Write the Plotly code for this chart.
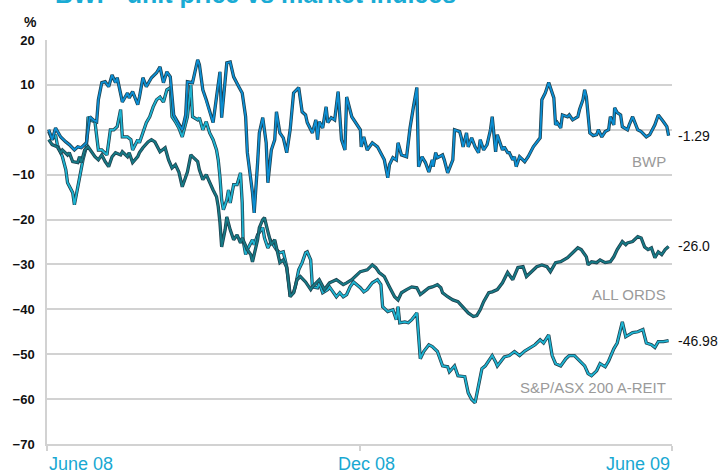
import pandas as pd
import plotly.graph_objects as go

START = "2008-06-01"

bwp_days = [1,3,5,8,11,13,16,18,20,23,25,27,29,30,32,34,36,38,40,41,44,47,48,50,53,54,56,58,61,63,64,66,68,70,72,74,77,79,81,82,85,88,89,91,93,95,97,99,101,102,105,107,109,112,114,116,117,120,121,123,124,126,128,129,131,133,134,136,138,140,142,144,147,149,151,152,155,157,158,159,161,163,164,166,168,170,172,174,175,178,181,183,183.5,185,187,190,193,196,197,199,200,202,204,205,207,210,212,214,216,217,219,221,223,225,225.5,227,228,231,232,234,237,238,241,242,243,245,246,248,250,252,253,255,257,259,260,262,263,266,267,269,270,272,273,274,276,279,281,284,286,288,289,291,293,295,296,297,298,300,301,304,305,307,310,311,313,314,315,317,319,321,322,324,326,328,329,331,331.5,333,335,336,339,340,342,345,347,350,352,355,357,360,362,363]
bwp_vals = [0,-2.2,0.4,-1.6,-2.7,-3.3,-4.5,-3.8,-4.0,-2.9,2.9,2.2,1.8,6.7,10.5,10.7,9.6,12.2,10.5,11.6,6.2,8.2,7.1,8.5,5.6,7.3,11.6,9.6,11.6,12.2,12.7,14.0,10.5,12.9,11.8,3.3,1.1,0,3.3,10.7,10.5,15.6,14.5,8.9,6.7,4.0,1.6,7.3,12.9,2.7,14.9,15.1,11.8,9.6,8.2,2.9,-5.1,-14.0,-18.5,-7.3,-0.7,2.7,-2.9,-11.8,-4.5,-2.2,4.0,-0.7,-1.8,-5.1,0,8.2,9.4,4.0,3.3,1.6,-0.7,2.2,-2.2,1.8,0.4,5.1,1.6,2.7,2.2,8.5,-2.2,-4.5,7.3,2.9,1.1,0,-3.8,-1.6,-4.5,-2.9,-3.8,-6.0,-6.7,-10.7,-7.8,-6.2,-6.7,-2.9,-5.6,-6.0,0.4,5.1,9.4,-8.2,-6.0,-7.3,-9.4,-6.7,-8.2,-5.1,-6.2,-5.6,-6.7,-9.6,-6.7,0,-0.4,-1.8,-3.8,-0.7,-3.8,-1.8,-3.8,-5.1,-2.2,-4.5,-3.3,0,2.9,-4.9,-1.1,-4.5,-3.8,-5.1,-5.1,-6.7,-6.0,-8.2,-6.0,-7.1,-6.0,-3.8,-2.7,-1.8,6.7,8.2,10.5,8.2,7.1,1.1,1.6,0.4,3.3,2.9,3.3,2.2,2.9,4.5,6.7,8.9,7.3,-0.7,-1.3,-1.1,0,-1.6,-0.4,0,2.9,1.1,4.9,3.8,3.3,0.7,0,1.1,2.9,0,-0.4,-1.6,-1.1,1.1,3.3,1.8,0.7,-1.29]

ords_days = [1,3,6,8,9,12,13,15,18,19,20,22,24,26,28,30,32,34,36,38,40,43,44,47,48,50,53,54,56,59,61,63,66,69,71,73,75,77,79,82,84,85,88,89,91,93,95,97,99,100,101,102,104,105,107,109,111,113,114,117,119,120,123,124,126,127,129,131,133,136,138,140,142,144,146,148,151,154,155,159,162,165,169,173,175,178,183,187,190,192,194,197,200,203,205,207,210,213,216,218,220,223,225,228,230,231,234,237,240,243,246,249,251,253,255,258,260,263,266,269,272,275,278,280,283,286,289,292,294,297,300,304,307,310,312,315,316,318,321,323,326,329,331,333,336,338,339,342,345,347,349,351,353,355,357,359,361,363]
ords_vals = [-2.2,-3.3,-3.8,-5.1,-4.5,-5.6,-5.1,-7.1,-7.3,-6.0,-7.3,-4.5,-3.8,-4.9,-6.0,-6.7,-5.6,-7.1,-8.2,-6.0,-5.1,-5.6,-4.9,-6.0,-5.1,-7.3,-6.0,-5.1,-4.0,-2.7,-2.2,-2.7,-4.9,-4.0,-6.7,-8.5,-7.8,-9.4,-12.7,-9.4,-5.6,-6.0,-7.1,-8.9,-11.1,-10.0,-11.8,-13.4,-14.9,-17.1,-20.7,-26.1,-22.3,-19.4,-22.3,-24.5,-23.4,-25.2,-24.1,-26.7,-27.8,-29.4,-24.5,-21.8,-20.0,-19.6,-22.7,-25.6,-24.5,-29.6,-29.0,-30.7,-37.2,-36.3,-33.4,-32.7,-33.9,-35.6,-35.0,-33.4,-35.6,-34.1,-33.4,-34.5,-34.1,-33.4,-31.6,-31.2,-30.1,-30.7,-31.8,-32.7,-35.0,-37.2,-37.9,-36.3,-35.6,-35.0,-35.2,-36.7,-36.1,-35.2,-35.0,-34.5,-35.2,-36.3,-37.2,-37.9,-38.3,-39.6,-40.8,-41.6,-41.4,-40.1,-38.3,-36.3,-36.1,-35.6,-34.1,-31.8,-33.4,-30.7,-30.5,-32.7,-31.6,-30.5,-30.1,-30.5,-31.6,-29.6,-29.4,-28.5,-27.4,-26.3,-26.7,-28.3,-30.1,-29.4,-29.6,-29.0,-29.6,-29.4,-28.3,-26.7,-24.9,-25.6,-25.2,-24.9,-23.8,-24.1,-26.1,-26.7,-26.3,-28.5,-27.2,-27.8,-26.7,-26.0]

reit_days = [1,3,5,6,9,11,12,15,16,18,19,21,23,24,25,28,30,32,35,37,39,41,43,44,47,49,50,53,54,56,58,60,62,64,66,68,70,72,73,75,77,79,82,84,85,88,89,91,93,95,97,99,100,101,102,103,105,106,107,109,111,113,114,114.5,116,117,120,121,123,126,127,129,131,134,136,138,140,142,144,145,147,149,151,152,154,155,158,159,161,164,165,167,169,171,173,175,177,179,181,183,185,187,190,193,195,196,199,202,204,205,206,209,211,213,216,218,220,223,225,228,231,234,235,238,240,244,246,248,250,252,254,256,258,260,262,263,267,270,273,276,279,282,285,288,290,293,295,297,300,303,305,308,311,314,316,318,321,323,326,328,331,333,336,338,342,345,348,350,353,355,357,360,363]
reit_vals = [-0.4,-2.2,-1.1,-3.3,-6.0,-8.9,-11.8,-14.0,-16.7,-12.7,-10.5,-6.7,-3.8,2.9,2.2,1.8,-4.5,-4.5,-5.6,0,0,0.7,4.5,-1.6,-1.6,-2.2,-4.5,-2.2,-2.9,-0.7,1.6,2.9,5.1,6.7,7.3,6.2,8.9,9.4,2.9,1.8,0.4,-1.6,2.9,10.0,2.9,2.2,2.7,0,1.8,-0.7,-2.2,-4.5,-6.7,-10.5,-15.6,-17.8,-15.6,-13.4,-16.3,-12.2,-12.2,-9.6,-16.3,-24.5,-27.8,-26.7,-24.5,-25.6,-23.4,-21.8,-24.1,-26.3,-24.9,-26.7,-27.4,-27.2,-30.5,-36.7,-36.3,-35.0,-31.2,-29.6,-27.4,-27.2,-29.0,-35.0,-35.2,-34.1,-36.3,-35.6,-35.0,-36.1,-37.2,-36.3,-37.2,-36.7,-35.0,-33.9,-34.5,-35.2,-36.1,-35.6,-34.1,-33.4,-34.5,-39.4,-40.5,-40.1,-42.3,-39.4,-43.0,-42.8,-43.0,-42.3,-40.8,-51.0,-49.4,-47.9,-48.3,-49.4,-52.6,-52.8,-53.9,-52.6,-54.8,-55.0,-58.6,-60.1,-60.8,-57.2,-53.2,-52.6,-51.5,-50.3,-51.7,-52.6,-50.6,-50.3,-49.4,-50.3,-49.3,-48.5,-47.9,-46.8,-47.5,-45.7,-50.3,-52.1,-52.6,-51.0,-50.3,-50.3,-51.5,-52.6,-54.3,-54.8,-53.7,-52.1,-52.8,-51.5,-48.8,-47.5,-42.8,-46.1,-45.2,-45.0,-44.5,-47.5,-47.9,-48.5,-47.2,-47.2,-46.98]

series_names = ["S&P/ASX 200 A-REIT", "ALL ORDS", "BWP"]
end_labels = ["-46.98", "-26.0", "-1.29"]
name_label_values = [-57.5, -36.6, -7.0]
tick_dates = ["2008-06-01", "2008-12-01", "2009-06-01"]
tick_texts = ["June 08", "Dec 08", "June 09"]
y_ticks = [20, 10, 0, -10, -20, -30, -40, -50, -60, -70]

colors = ["#1db4d2", "#167a86", "#0b8fd4"]
outline = "#1f3f4c"

def to_dates(days):
    return pd.Timestamp(START) + pd.to_timedelta(days, unit="D")

data = [(reit_days, reit_vals), (ords_days, ords_vals), (bwp_days, bwp_vals)]

fig = go.Figure()
for (d, v), c in zip(data, colors):
    x = to_dates(d)
    fig.add_trace(go.Scatter(x=x, y=v, mode="lines",
                             line=dict(color=outline, width=3.3), hoverinfo="skip"))
    fig.add_trace(go.Scatter(x=x, y=v, mode="lines",
                             line=dict(color=c, width=1.8)))

grid = "#d2d2d2"
fig.update_layout(
    width=725, height=473,
    margin=dict(l=47, r=53, t=40, b=29),
    paper_bgcolor="white", plot_bgcolor="white",
    showlegend=False,
    font=dict(family="Liberation Sans, Arial, sans-serif"),
)
fig.update_xaxes(
    type="date",
    range=[tick_dates[0], tick_dates[-1]],
    showgrid=False, zeroline=False,
    showline=True, linecolor=grid, linewidth=1.5,
    tickvals=tick_dates, ticktext=["", "", ""],
    ticks="outside", ticklen=5, tickcolor=grid, tickwidth=1.5,
)
fig.update_yaxes(
    range=[-70, 20],
    tickvals=y_ticks,
    showgrid=True, gridcolor=grid, gridwidth=1.5,
    zeroline=False,
    showline=True, linecolor=grid, linewidth=1.5,
    tickfont=dict(family="Liberation Sans, Arial", size=13, color="#111111", weight="bold"),
    ticks="", ticklabelstandoff=8,
)

# x tick labels
anchors = ["left", "center", "right"]
shifts = [0, 6, 0]
for td, tt, an, sh in zip(tick_dates, tick_texts, anchors, shifts):
    fig.add_annotation(x=td, xref="x", xshift=sh, y=0, yref="paper", yshift=-8,
                       text=tt, showarrow=False, xanchor=an, yanchor="top",
                       font=dict(family="Liberation Sans Narrow, Arial Narrow, Liberation Sans", size=18, color="#19a8d2"))

# end value labels
last_vals = [reit_vals[-1], ords_vals[-1], bwp_vals[-1]]
for lv, lab in zip(last_vals, end_labels):
    fig.add_annotation(x=1, xref="paper", xshift=4, y=lv, yref="y",
                       text=lab, showarrow=False, xanchor="left", yanchor="middle",
                       font=dict(family="Liberation Sans, Arial", size=14, color="#111111"))

# series name labels
for nm, nv in zip(series_names, name_label_values):
    fig.add_annotation(x=1, xref="paper", xshift=-4, y=nv, yref="y",
                       text=nm, showarrow=False, xanchor="right", yanchor="middle",
                       font=dict(family="Liberation Sans, Arial", size=15, color="#9a9a9a"))

# % label
fig.add_annotation(x=0, xref="paper", xshift=-17, y=1, yref="paper", yshift=8,
                   text="%", showarrow=False, xanchor="center", yanchor="bottom",
                   font=dict(family="Liberation Sans, Arial", size=14, color="#111111", weight="bold"))

# title (cut off at top of image)
fig.add_annotation(x=0, xref="paper", xshift=6, y=1, yref="paper", yshift=30,
                   text="BWP  unit price vs market indices", showarrow=False,
                   xanchor="left", yanchor="bottom",
                   font=dict(family="Liberation Sans, Arial", size=25, color="#1aabd4", weight="bold"))

fig.write_html("out.html", config={"displayModeBar": False},
               post_script="document.body.style.margin='0';document.body.style.overflow='hidden';")
